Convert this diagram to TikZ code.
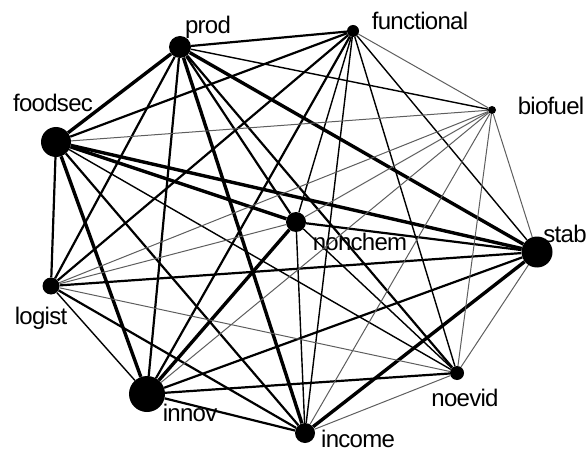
\documentclass[tikz,border=0pt]{standalone}
\usepackage{fontspec}
\setmainfont{Liberation Sans}
\usepackage{tikz}
\usetikzlibrary{positioning}
\definecolor{ink}{HTML}{000000}
\definecolor{faint}{HTML}{5E5E5E}

\begin{document}
\begin{tikzpicture}[x=1pt, y=-1pt,
    vert/.style={circle, fill=ink, inner sep=0pt, minimum size=#1},
    lbl/.style={inner sep=0pt, font=\fontsize{24}{26}\selectfont\addfontfeatures{LetterSpace=-3}},
    heavy/.style={line width=3.4pt, draw=ink},
    mid/.style={line width=2.2pt, draw=ink},
    light/.style={line width=1.4pt, draw=ink},
    weak/.style={line width=1pt, draw=faint}]
        \useasboundingbox (0,0) rectangle (588,454);
        % concepts
        \node[vert=22] (prod) at (180,47) {};
        \node[vert=12] (functional) at (353,31) {};
        \node[vert=8] (biofuel) at (492,110) {};
        \node[vert=30] (foodsec) at (56,142) {};
        \node[vert=31] (stab) at (537,252) {};
        \node[vert=20] (nonchem) at (296,222) {};
        \node[vert=17] (logist) at (51,286) {};
        \node[vert=36] (innov) at (147,394) {};
        \node[vert=20] (income) at (305,433) {};
        \node[vert=14] (noevid) at (457,373) {};

        \node[lbl] (prod-l) at (208,27) {prod};
        \node[lbl] (functional-l) at (420,21) {functional};
        \node[lbl] (biofuel-l) at (551,106) {biofuel};
        \node[lbl] (foodsec-l) at (53,103) {foodsec};
        \node[lbl] (stab-l) at (565,234) {stab};
        \node[lbl] (nonchem-l) at (360,242) {nonchem};
        \node[lbl] (logist-l) at (41,318) {logist};
        \node[lbl] (innov-l) at (190,413) {innov};
        \node[lbl] (income-l) at (358,439) {income};
        \node[lbl] (noevid-l) at (465,398) {noevid};

        % links, by strength
        \foreach \a/\b in {prod/foodsec, prod/stab, foodsec/stab, foodsec/nonchem,
            foodsec/innov, nonchem/innov, stab/income, prod/income}
            \draw[heavy] (\a) -- (\b);
        \foreach \a/\b in {prod/functional, prod/nonchem, prod/innov, prod/logist,
            prod/noevid, foodsec/functional, foodsec/logist, foodsec/income,
            functional/innov, functional/logist, stab/nonchem, stab/logist,
            stab/innov, logist/income, innov/income, innov/noevid}
            \draw[mid] (\a) -- (\b);
        \foreach \a/\b in {functional/nonchem, functional/income, functional/noevid,
            functional/stab, logist/innov, nonchem/income, nonchem/noevid,
            foodsec/noevid, biofuel/prod}
            \draw[light] (\a) -- (\b);
        \foreach \a/\b in {biofuel/functional, biofuel/foodsec,
            biofuel/stab, biofuel/nonchem, biofuel/logist, biofuel/innov,
            biofuel/income, biofuel/noevid, logist/nonchem, logist/noevid,
            stab/noevid, income/noevid}
            \draw[weak] (\a) -- (\b);
    \end{tikzpicture}
\end{document}
